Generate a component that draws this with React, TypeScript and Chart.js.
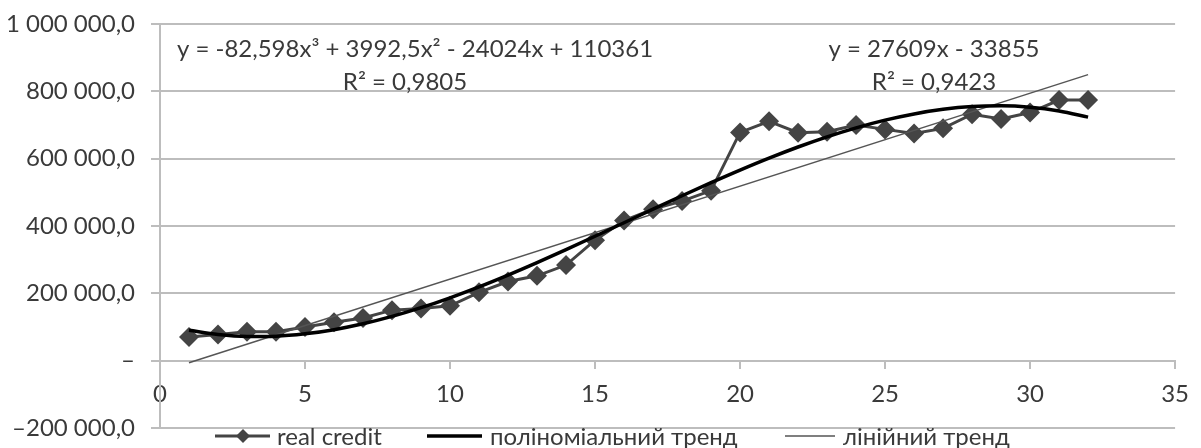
import React, { useEffect, useRef } from "react";
import { Chart, registerables } from "chart.js";

Chart.register(...registerables);

// ---- data ----
const periods = [
  1, 2, 3, 4, 5, 6, 7, 8, 9, 10, 11, 12, 13, 14, 15, 16,
  17, 18, 19, 20, 21, 22, 23, 24, 25, 26, 27, 28, 29, 30, 31, 32,
];
const realCredit = [
  70000, 78000, 86000, 86000, 100000, 114000, 127000, 150000,
  155000, 163000, 203000, 235000, 252000, 284000, 358000, 416000,
  450000, 474000, 505000, 678000, 711000, 677000, 680000, 700000,
  687000, 675000, 690000, 732000, 718000, 737000, 774000, 774000,
];
// polynomial trend values (y = -82,598x³ + 3992,5x² - 24024x + 110361)
const polyTrend = [
  90247, 77622, 71991, 72859, 79729, 92106, 109494, 131399,
  157324, 186773, 219252, 254264, 291314, 329906, 369545, 409736,
  449982, 489788, 528658, 566097, 601609, 634700, 664872, 691630,
  714480, 732925, 746469, 754618, 756875, 752745, 741732, 723342,
];
const linearTrendX = [1, 32];
const linearTrendY = [-6246, 849633];

const xMin = 0;
const xMax = 35;
const xStep = 5;
const yMin = -200000;
const yMax = 1000000;
const yStep = 200000;

const seriesLabels = ["real credit", "поліноміальний тренд", "лінійний тренд"];
const polyEquation = ["y = -82,598x³ + 3992,5x² - 24024x + 110361", "R² = 0,9805"];
const linearEquation = ["y = 27609x - 33855", "R² = 0,9423"];

// ---- styles ----
const FONT = "Lato";
const FS = 24;
const TEXT = "#3a3a3a";
const GRID = "#bdbdbd";
const CREDIT = "#444444";
const POLY = "#000000";
const LINEAR = "#555555";

function fmtY(v: number): string {
  if (v === 0) return "–";
  const s = String(Math.abs(v)).replace(/\B(?=(\d{3})+(?!\d))/g, " ") + ",0";
  return v < 0 ? "–" + s : s;
}

const overlayPlugin = {
  id: "overlay",
  afterDraw(chart: any) {
    const ctx: CanvasRenderingContext2D = chart.ctx;
    ctx.save();
    ctx.fillStyle = TEXT;
    ctx.font = `${FS}px ${FONT}`;
    ctx.textAlign = "center";
    ctx.textBaseline = "alphabetic";
    ctx.fillText(polyEquation[0], 415, 57);
    ctx.fillText(polyEquation[1], 405, 90);
    ctx.fillText(linearEquation[0], 934, 57);
    ctx.fillText(linearEquation[1], 934, 90);

    // legend
    const ly = 436;
    const tb = 445;
    ctx.textAlign = "left";
    // item 1
    ctx.strokeStyle = CREDIT;
    ctx.lineWidth = 3;
    ctx.beginPath();
    ctx.moveTo(215, ly);
    ctx.lineTo(270, ly);
    ctx.stroke();
    ctx.fillStyle = CREDIT;
    ctx.beginPath();
    ctx.moveTo(243, ly - 7);
    ctx.lineTo(250, ly);
    ctx.lineTo(243, ly + 7);
    ctx.lineTo(236, ly);
    ctx.closePath();
    ctx.fill();
    ctx.fillStyle = TEXT;
    ctx.fillText(seriesLabels[0], 277, tb);
    // item 2
    ctx.strokeStyle = POLY;
    ctx.lineWidth = 3.5;
    ctx.beginPath();
    ctx.moveTo(427, ly);
    ctx.lineTo(482, ly);
    ctx.stroke();
    ctx.fillText(seriesLabels[1], 490, tb);
    // item 3
    ctx.strokeStyle = LINEAR;
    ctx.lineWidth = 1.5;
    ctx.beginPath();
    ctx.moveTo(785, ly);
    ctx.lineTo(835, ly);
    ctx.stroke();
    ctx.fillText(seriesLabels[2], 843, tb);
    ctx.restore();
  },
};

export default function App() {
  const ref = useRef<HTMLCanvasElement | null>(null);

  useEffect(() => {
    document.body.style.margin = "0";
    const canvas = ref.current;
    if (!canvas) return;
    Chart.defaults.font.family = FONT;

    const chart = new Chart(canvas, {
      type: "scatter",
      data: {
        datasets: [
          {
            label: seriesLabels[0],
            data: periods.map((p, i) => ({ x: p, y: realCredit[i] })),
            showLine: true,
            borderColor: CREDIT,
            borderWidth: 3,
            pointStyle: "rectRot",
            pointRadius: 10,
            pointHoverRadius: 10,
            pointBackgroundColor: CREDIT,
            pointBorderColor: CREDIT,
            pointBorderWidth: 0,
            order: 3,
          },
          {
            label: seriesLabels[1],
            data: periods.map((p, i) => ({ x: p, y: polyTrend[i] })),
            showLine: true,
            borderColor: POLY,
            borderWidth: 3.5,
            pointRadius: 0,
            cubicInterpolationMode: "monotone",
            order: 1,
          },
          {
            label: seriesLabels[2],
            data: linearTrendX.map((x, i) => ({ x, y: linearTrendY[i] })),
            showLine: true,
            borderColor: LINEAR,
            borderWidth: 1.5,
            pointRadius: 0,
            order: 2,
          },
        ],
      },
      options: {
        responsive: false,
        animation: false,
        devicePixelRatio: 1,
        layout: { padding: { left: 0, right: 15, top: 24, bottom: 20 } },
        plugins: {
          legend: { display: false },
          tooltip: { enabled: false },
        },
        scales: {
          x: {
            type: "linear",
            min: xMin,
            max: xMax,
            position: { y: 0 } as any,
            afterFit: (s: any) => {
              s.height = 0;
              s.paddingTop = 0;
              s.paddingBottom = 0;
            },
            ticks: {
              stepSize: xStep,
              color: TEXT,
              font: { size: FS, family: FONT },
              padding: 12,
              maxRotation: 0,
            },
            grid: {
              drawOnChartArea: false,
              drawTicks: true,
              tickLength: 7,
              color: GRID,
              lineWidth: 2,
            },
            border: { display: true, color: GRID, width: 2 },
          },
          y: {
            type: "linear",
            min: yMin,
            max: yMax,
            afterFit: (s: any) => {
              s.width = 160;
              s.paddingTop = 0;
              s.paddingBottom = 0;
            },
            ticks: {
              stepSize: yStep,
              color: TEXT,
              font: { size: FS, family: FONT },
              padding: 16,
              callback: (v: any) => fmtY(Number(v)),
            },
            grid: {
              color: GRID,
              lineWidth: 2,
              drawTicks: true,
              tickLength: 9,
            },
            border: { display: true, color: GRID, width: 2 },
          },
        },
      },
      plugins: [overlayPlugin],
    });
    return () => chart.destroy();
  }, []);

  return (
    <div style={{ width: 1201, height: 448, position: "relative" }}>
      <canvas ref={ref} width={1201} height={448} />
    </div>
  );
}
